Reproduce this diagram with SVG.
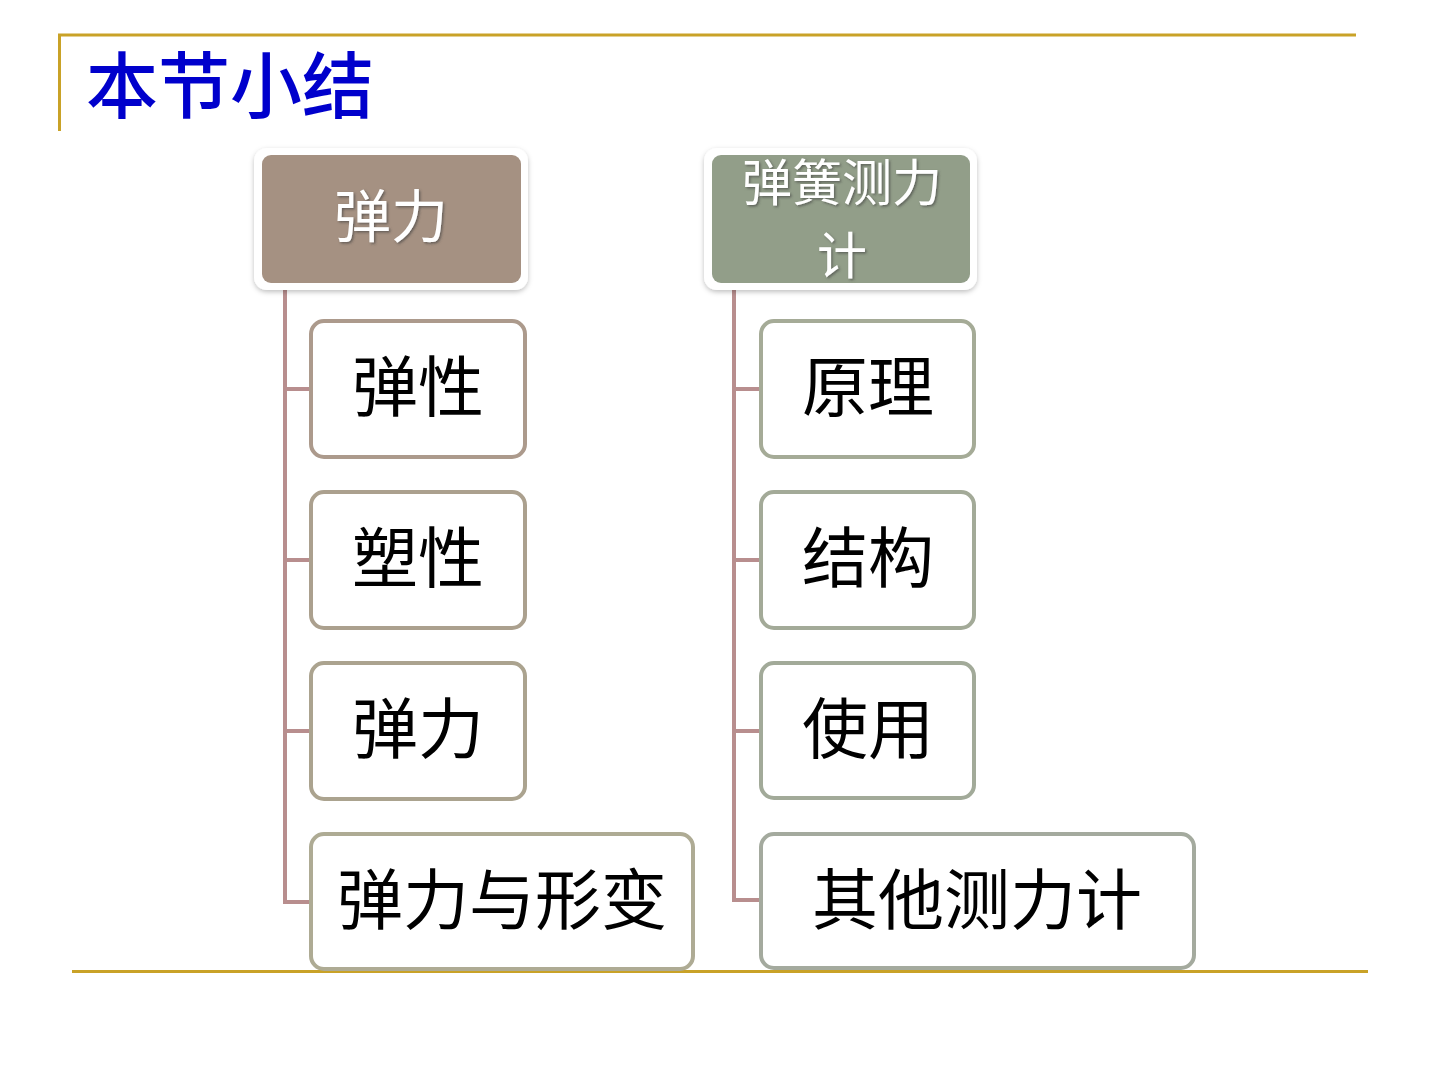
<svg xmlns="http://www.w3.org/2000/svg" width="1440" height="1080" viewBox="0 0 1440 1080">
<defs>
<filter id="sh" x="-10%" y="-10%" width="120%" height="125%">
<feDropShadow dx="0" dy="2" stdDeviation="2.5" flood-color="#000" flood-opacity="0.25"/>
</filter>
<filter id="ts" x="-10%" y="-10%" width="120%" height="130%">
<feDropShadow dx="1.5" dy="1.5" stdDeviation="0.8" flood-color="#3a3a3a" flood-opacity="0.6"/>
</filter>
<style>
.rule{stroke:#C9A227;stroke-width:3;fill:none}
.conn{stroke:#B88E8E;stroke-width:4;fill:none}
.hdr-rim{fill:#ffffff}
.hdr-t{font-family:"Noto Sans CJK SC","Liberation Sans",sans-serif;font-size:57px;fill:#ffffff;text-anchor:middle}
.hdr-t2{font-family:"Noto Sans CJK SC","Liberation Sans",sans-serif;font-size:50px;fill:#ffffff;text-anchor:middle}
.child{fill:#ffffff;stroke-width:4}
.child-t{font-family:"Noto Sans CJK SC","Liberation Sans",sans-serif;font-size:66px;fill:#000000;text-anchor:middle}
.title{font-family:"Noto Sans CJK SC","Liberation Sans",sans-serif;font-size:72px;font-weight:500;fill:#0000CC}
</style>
</defs>
<rect x="0" y="0" width="1440" height="1080" fill="#ffffff"/>

<g id="frame">
<line class="rule" x1="58" y1="35" x2="1356" y2="35"/>
<line class="rule" x1="59.5" y1="35" x2="59.5" y2="131"/>
<line class="rule" x1="72" y1="971.5" x2="1368" y2="971.5"/>
</g>

<g id="title">
<text class="title" x="86" y="112">本节小结</text>
</g>

<g id="connectors">
<path class="conn" d="M285 290 V902 H312"/>
<path class="conn" d="M285 389 H312"/>
<path class="conn" d="M285 560 H312"/>
<path class="conn" d="M285 731 H312"/>
<path class="conn" d="M734 290 V900 H762"/>
<path class="conn" d="M734 389 H762"/>
<path class="conn" d="M734 560 H762"/>
<path class="conn" d="M734 731 H762"/>
</g>

<g id="node-tanli-header">
<rect class="hdr-rim" x="254" y="148" width="274" height="142" rx="13" filter="url(#sh)"/>
<rect x="262" y="155" width="259" height="128" rx="9" fill="#A59182"/>
<text class="hdr-t" x="391" y="237" filter="url(#ts)">弹力</text>
</g>

<g id="node-tanxing">
<rect class="child" x="311" y="321" width="214" height="136" rx="13" stroke="#AC9A8C"/>
<text class="child-t" x="418" y="411">弹性</text>
</g>
<g id="node-suxing">
<rect class="child" x="311" y="492" width="214" height="136" rx="13" stroke="#ABA08E"/>
<text class="child-t" x="418" y="582">塑性</text>
</g>
<g id="node-tanli">
<rect class="child" x="311" y="663" width="214" height="136" rx="13" stroke="#ABA38F"/>
<text class="child-t" x="418" y="753">弹力</text>
</g>
<g id="node-tanli-xingbian">
<rect class="child" x="311" y="834" width="382" height="135" rx="13" stroke="#AEAB94"/>
<text class="child-t" x="502" y="924">弹力与形变</text>
</g>

<g id="node-cljl-header">
<rect class="hdr-rim" x="704" y="148" width="273" height="142" rx="13" filter="url(#sh)"/>
<rect x="712" y="155" width="258" height="128" rx="9" fill="#929E89"/>
<text class="hdr-t2" x="842" y="201" filter="url(#ts)">弹簧测力<tspan x="842" y="274">计</tspan></text>
</g>

<g id="node-yuanli">
<rect class="child" x="761" y="321" width="213" height="136" rx="13" stroke="#A5AB97"/>
<text class="child-t" x="868" y="411">原理</text>
</g>
<g id="node-jiegou">
<rect class="child" x="761" y="492" width="213" height="136" rx="13" stroke="#A3AA98"/>
<text class="child-t" x="868" y="582">结构</text>
</g>
<g id="node-shiyong">
<rect class="child" x="761" y="663" width="213" height="135" rx="13" stroke="#A2AA99"/>
<text class="child-t" x="868" y="753">使用</text>
</g>
<g id="node-qita">
<rect class="child" x="761" y="834" width="433" height="134" rx="13" stroke="#A4AA9E"/>
<text class="child-t" x="977" y="924">其他测力计</text>
</g>
</svg>
